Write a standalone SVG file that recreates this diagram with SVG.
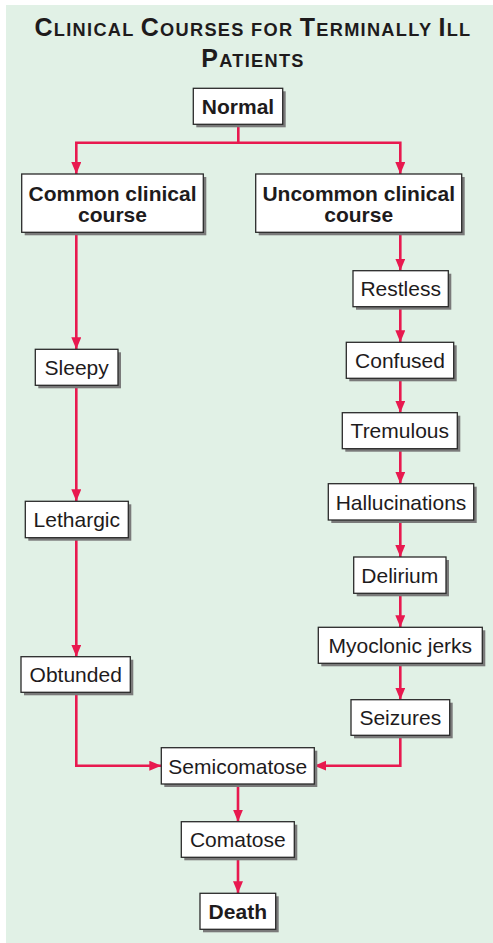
<svg xmlns="http://www.w3.org/2000/svg" width="493" height="943" viewBox="0 0 493 943">
<style>
.box{fill:#ffffff;stroke:#2a2a2a;stroke-width:1.3}
.sh{fill:#7a7a7a}
.t{font-family:"Liberation Sans",Arial,sans-serif;font-size:21px;fill:#1e1b1c;text-anchor:middle}
.b{font-weight:bold}
.ttl{font-family:"Liberation Sans",Arial,sans-serif;font-weight:bold;fill:#1e1b1c;text-anchor:middle;letter-spacing:1.3px}
.big{font-size:25px}
.sm{font-size:18.2px}
.c{fill:none;stroke:#e8194f;stroke-width:2.6}
</style>
<defs>
<marker id="ah" markerUnits="userSpaceOnUse" markerWidth="14" markerHeight="12" refX="12" refY="5" orient="auto">
<path d="M0,0 L12,5 L0,10 Z" fill="#e8194f"/>
</marker>
</defs>
<rect x="0" y="0" width="493" height="943" fill="#ffffff"/>
<rect x="6" y="5" width="487" height="938" fill="#e1f1e6"/>
<text class="ttl" x="253" y="36"><tspan class="big">C</tspan><tspan class="sm">LINICAL </tspan><tspan class="big">C</tspan><tspan class="sm">OURSES FOR </tspan><tspan class="big">T</tspan><tspan class="sm">ERMINALLY </tspan><tspan class="big">I</tspan><tspan class="sm">LL</tspan></text>
<text class="ttl" x="253" y="67"><tspan class="big">P</tspan><tspan class="sm">ATIENTS</tspan></text>
<g id="connectors">
<path class="c" d="M238.3,124.3 V142.7 H76.3 V174" marker-end="url(#ah)"/>
<path class="c" d="M238.3,142.7 H400.3 V174" marker-end="url(#ah)"/>
<path class="c" d="M76.3,232.3 V349.3" marker-end="url(#ah)"/>
<path class="c" d="M76.3,385.3 V501.3" marker-end="url(#ah)"/>
<path class="c" d="M76.3,537.7 V656.7" marker-end="url(#ah)"/>
<path class="c" d="M76.3,692.3 V765.7 H161.3" marker-end="url(#ah)"/>
<path class="c" d="M400.3,232.3 V270.7" marker-end="url(#ah)"/>
<path class="c" d="M400.3,306.7 V342.3" marker-end="url(#ah)"/>
<path class="c" d="M400.3,378.3 V412.7" marker-end="url(#ah)"/>
<path class="c" d="M400.3,448.7 V483.7" marker-end="url(#ah)"/>
<path class="c" d="M400.3,520 V557" marker-end="url(#ah)"/>
<path class="c" d="M400.3,593.3 V627.3" marker-end="url(#ah)"/>
<path class="c" d="M400.3,663.3 V699.7" marker-end="url(#ah)"/>
<path class="c" d="M400.3,735.3 V765.7 H314.3" marker-end="url(#ah)"/>
<path class="c" d="M238,784 V821.7" marker-end="url(#ah)"/>
<path class="c" d="M238,857.3 V893.3" marker-end="url(#ah)"/>
</g>
<g id="normal"><rect class="sh" x="196.3" y="91.3" width="89.4" height="36"/><rect class="box" x="193.3" y="88.3" width="89.4" height="36"/><text class="t b" x="238" y="114">Normal</text></g>
<g id="common"><rect class="sh" x="24.7" y="177" width="181.6" height="58.3"/><rect class="box" x="21.7" y="174" width="181.6" height="58.3"/><text class="t b" x="112.5" y="201">Common clinical</text><text class="t b" x="112.5" y="222">course</text></g>
<g id="uncommon"><rect class="sh" x="258.7" y="177" width="206" height="58.3"/><rect class="box" x="255.7" y="174" width="206" height="58.3"/><text class="t b" x="358.7" y="201">Uncommon clinical</text><text class="t b" x="358.7" y="222">course</text></g>
<g id="sleepy"><rect class="sh" x="38.3" y="352.3" width="82.7" height="36"/><rect class="box" x="35.3" y="349.3" width="82.7" height="36"/><text class="t" x="76.7" y="375">Sleepy</text></g>
<g id="lethargic"><rect class="sh" x="28.3" y="504.3" width="103" height="36.4"/><rect class="box" x="25.3" y="501.3" width="103" height="36.4"/><text class="t" x="76.8" y="527">Lethargic</text></g>
<g id="obtunded"><rect class="sh" x="24" y="659.7" width="109.3" height="35.6"/><rect class="box" x="21" y="656.7" width="109.3" height="35.6"/><text class="t" x="75.7" y="682">Obtunded</text></g>
<g id="restless"><rect class="sh" x="356" y="273.7" width="95.3" height="36"/><rect class="box" x="353" y="270.7" width="95.3" height="36"/><text class="t" x="400.7" y="296.3">Restless</text></g>
<g id="confused"><rect class="sh" x="349.3" y="345.3" width="107.4" height="36"/><rect class="box" x="346.3" y="342.3" width="107.4" height="36"/><text class="t" x="400" y="368">Confused</text></g>
<g id="tremulous"><rect class="sh" x="345.3" y="415.7" width="115" height="36"/><rect class="box" x="342.3" y="412.7" width="115" height="36"/><text class="t" x="399.8" y="438.3">Tremulous</text></g>
<g id="hallucinations"><rect class="sh" x="331.3" y="486.7" width="145.4" height="36.3"/><rect class="box" x="328.3" y="483.7" width="145.4" height="36.3"/><text class="t" x="401" y="509.5">Hallucinations</text></g>
<g id="delirium"><rect class="sh" x="356.7" y="560" width="92.3" height="36.3"/><rect class="box" x="353.7" y="557" width="92.3" height="36.3"/><text class="t" x="399.8" y="582.8">Delirium</text></g>
<g id="myoclonic"><rect class="sh" x="321.3" y="630.3" width="164" height="36"/><rect class="box" x="318.3" y="627.3" width="164" height="36"/><text class="t" x="400.3" y="653">Myoclonic jerks</text></g>
<g id="seizures"><rect class="sh" x="354" y="702.7" width="98.7" height="35.6"/><rect class="box" x="351" y="699.7" width="98.7" height="35.6"/><text class="t" x="400.3" y="725">Seizures</text></g>
<g id="semicomatose"><rect class="sh" x="164.3" y="750.7" width="153" height="36.3"/><rect class="box" x="161.3" y="747.7" width="153" height="36.3"/><text class="t" x="237.8" y="773.5">Semicomatose</text></g>
<g id="comatose"><rect class="sh" x="184.3" y="824.7" width="113" height="35.6"/><rect class="box" x="181.3" y="821.7" width="113" height="35.6"/><text class="t" x="237.8" y="847">Comatose</text></g>
<g id="death"><rect class="sh" x="203" y="896.3" width="75.7" height="36"/><rect class="box" x="200" y="893.3" width="75.7" height="36"/><text class="t b" x="237.8" y="919">Death</text></g>
</svg>
